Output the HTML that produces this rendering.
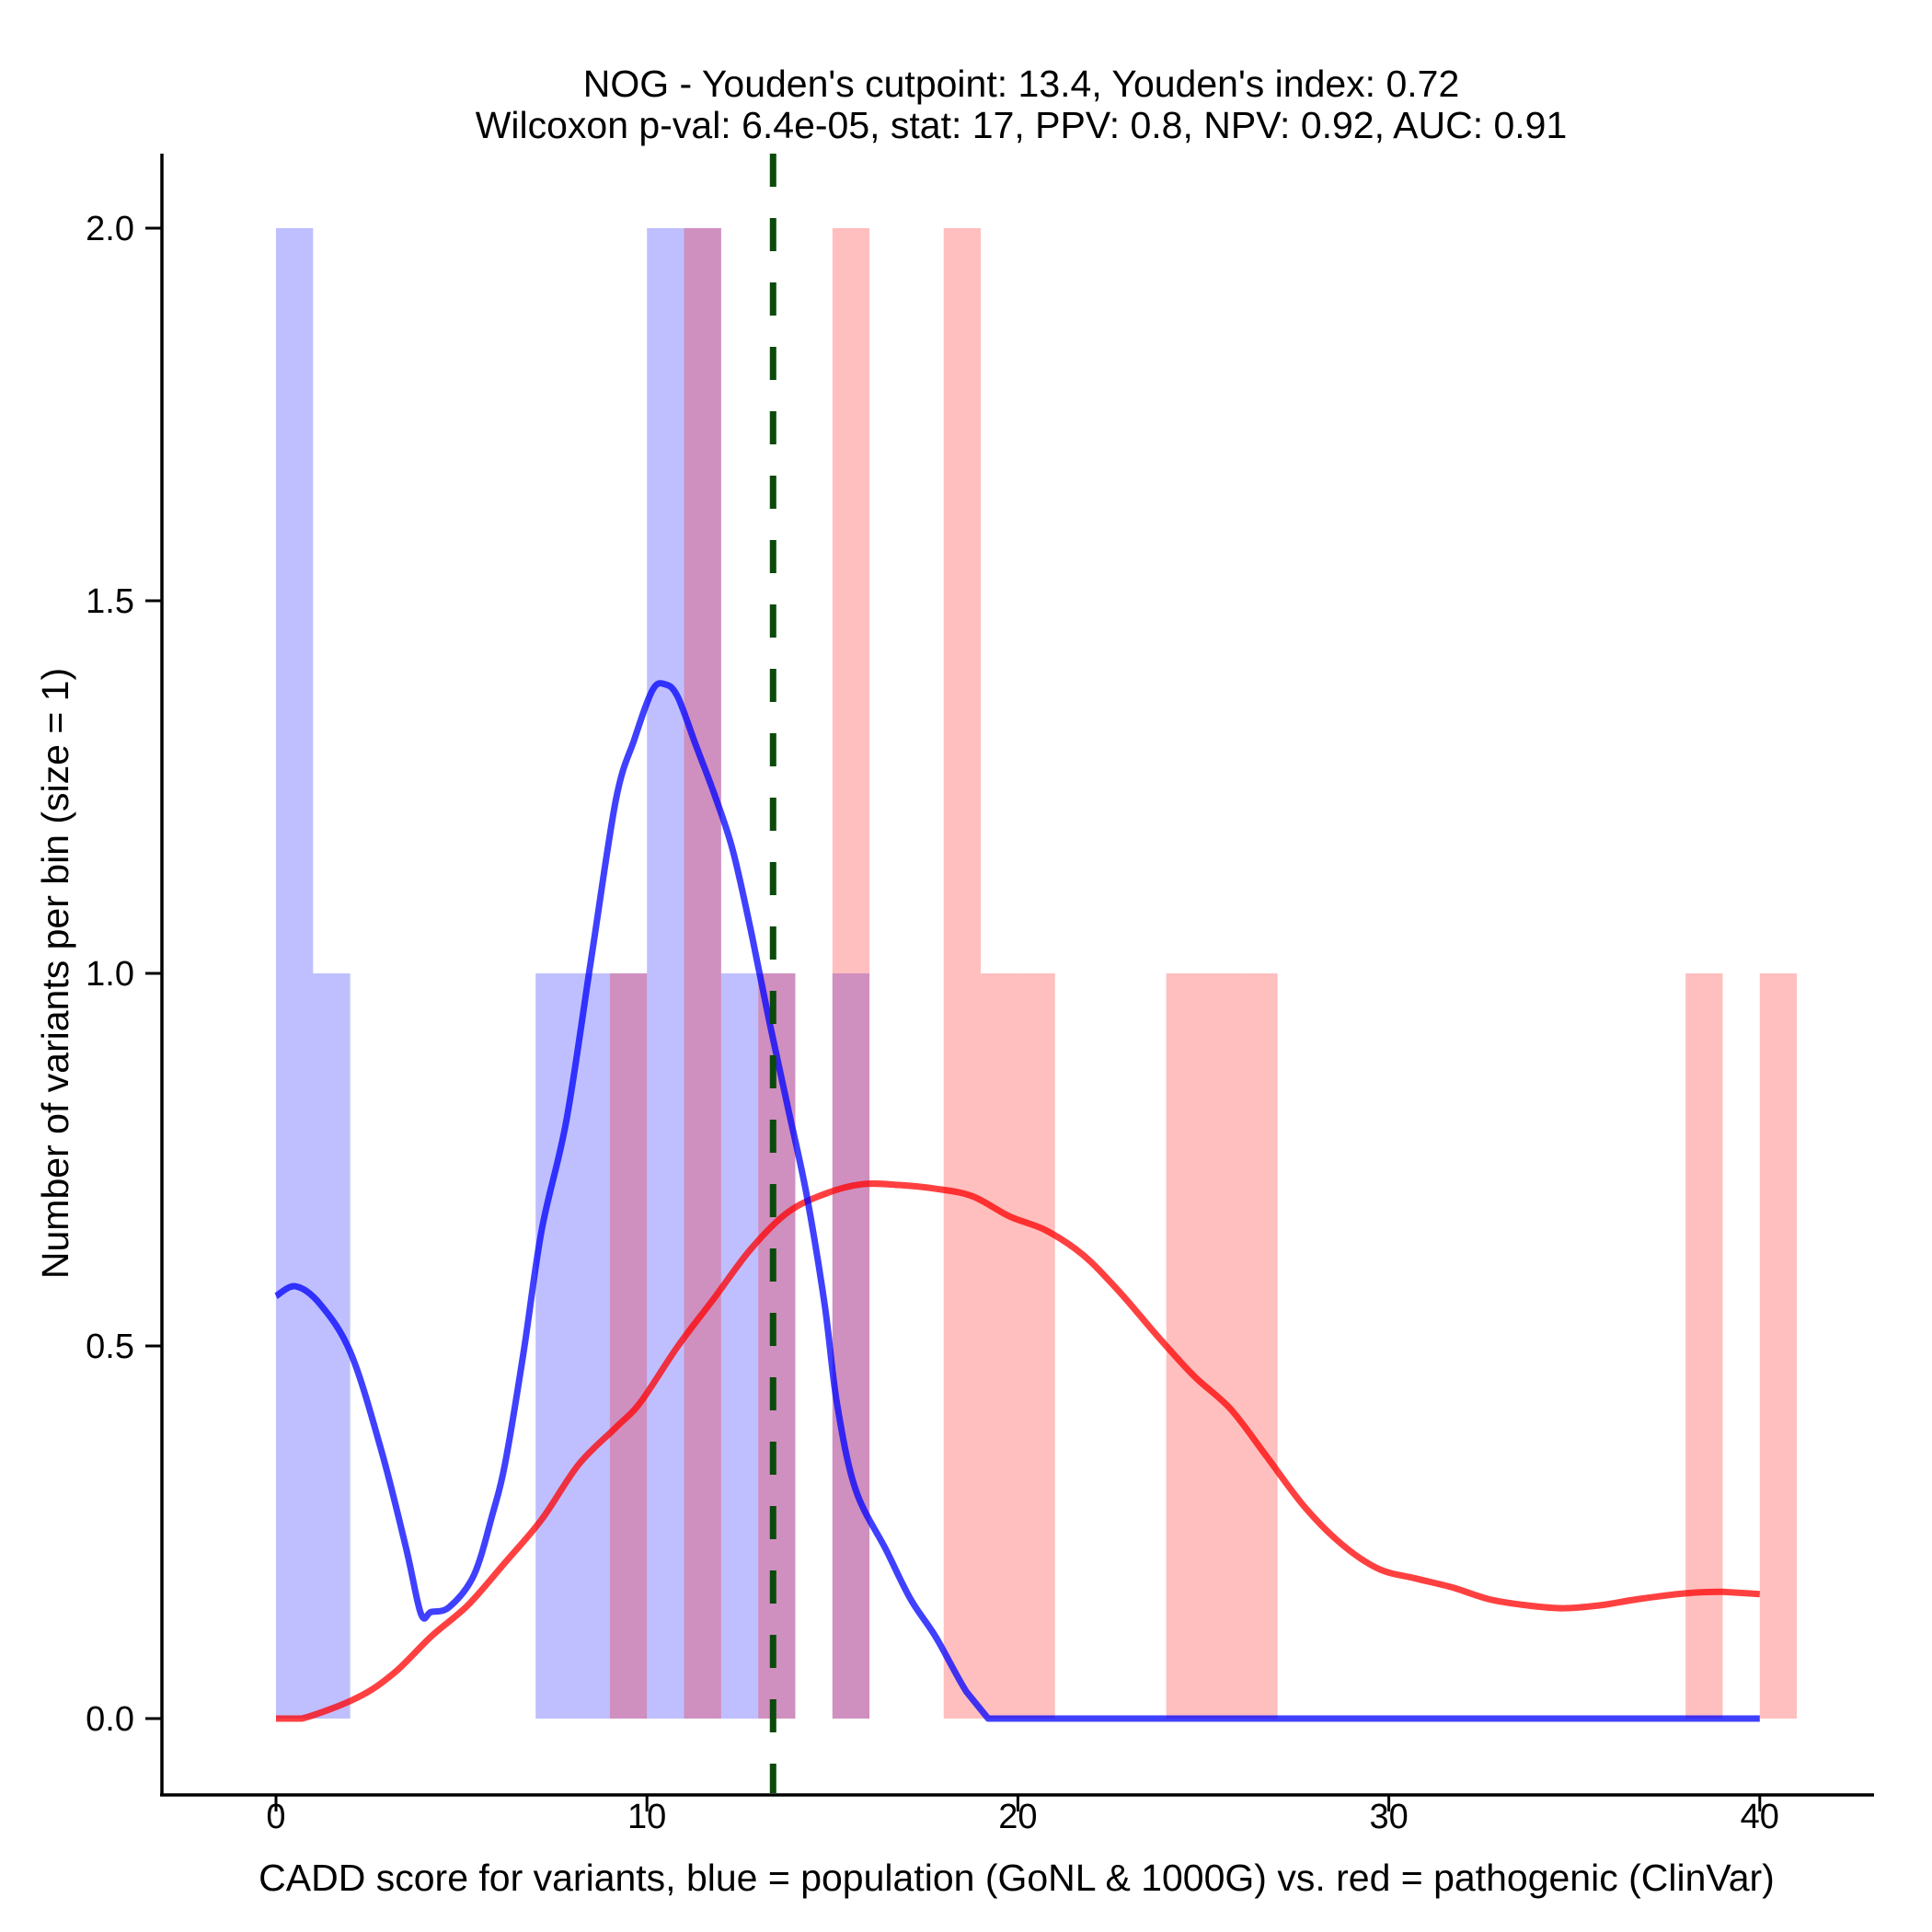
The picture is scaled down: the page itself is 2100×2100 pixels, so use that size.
<!DOCTYPE html>
<html><head><meta charset="utf-8"><style>
html,body{margin:0;padding:0;background:#fff;}
svg{display:block;font-family:"Liberation Sans",Arial,sans-serif;}
</style></head><body>
<svg id="chart" width="2100" height="2100" viewBox="0 0 2100 2100">
<text x="1110" y="105" text-anchor="middle" font-size="41">NOG - Youden's cutpoint: 13.4, Youden's index: 0.72</text>
<text x="1110" y="150" text-anchor="middle" font-size="41">Wilcoxon p-val: 6.4e-05, stat: 17, PPV: 0.8, NPV: 0.92, AUC: 0.91</text>
<g id="bars"></g>
<g id="curves"></g>
<g id="axes"></g>
<text x="1105" y="2055" text-anchor="middle" font-size="41">CADD score for variants, blue = population (GoNL &amp; 1000G) vs. red = pathogenic (ClinVar)</text>
<text transform="translate(74,1058) rotate(-90)" text-anchor="middle" font-size="41">Number of variants per bin (size = 1)</text>
</svg>
<script>
const blueBins = [0,1,7,8,9,10,11,12,13,15];
const blueCounts = [2,1,1,1,1,2,2,1,1,1];
const redBins = [9,11,13,15,18,19,20,24,25,26,38,40];
const redCounts = [1,2,1,2,2,1,1,1,1,1,1,1];
const blueDensX = [0,0.53,1.19,2.02,2.85,3.52,3.91,4.18,4.68,5.34,5.84,6.17,6.67,7.16,7.83,8.49,9.16,9.66,10.15,10.48,10.82,11.32,11.82,12.31,12.8,13.3,13.8,14.3,14.79,15.12,15.62,16.45,17.11,17.78,18.61,19.2,25,30,35,40];
const blueDensY = [0.567,0.58,0.556,0.49,0.358,0.226,0.14,0.143,0.15,0.193,0.275,0.341,0.49,0.655,0.803,1.017,1.232,1.314,1.38,1.388,1.372,1.306,1.24,1.166,1.058,0.935,0.82,0.704,0.556,0.424,0.308,0.226,0.16,0.11,0.036,0,0,0,0,0];
const redDensX = [0,0.7,2.19,3.18,4.18,5.17,6.17,7.16,8.16,9.15,9.82,10.81,11.81,12.8,13.79,14.79,15.79,16.78,17.78,18.77,19.77,20.76,21.76,22.75,23.75,24.74,25.74,26.73,27.73,28.73,29.72,30.72,31.71,32.71,33.71,34.7,35.7,36.69,38,39,40];
const redDensY = [0,0,0.028,0.061,0.11,0.152,0.209,0.267,0.341,0.39,0.424,0.498,0.564,0.63,0.679,0.704,0.717,0.716,0.711,0.701,0.674,0.655,0.622,0.572,0.514,0.46,0.415,0.35,0.284,0.234,0.201,0.188,0.176,0.16,0.152,0.148,0.152,0.16,0.168,0.17,0.167];
const cutpoint = 13.4;
const xTicks = [0,10,20,30,40];
const yTicks = [0,0.5,1,1.5,2];
const yTickLabels = ["0.0","0.5","1.0","1.5","2.0"];

const NS="http://www.w3.org/2000/svg";
const X0=300, XS=40.32, Y0=1868, YS=810;
const sx=v=>X0+v*XS, sy=v=>Y0-v*YS;
function mk(tag,attrs,parent){const e=document.createElementNS(NS,tag);for(const k in attrs)e.setAttribute(k,attrs[k]);parent.appendChild(e);return e;}
const bars=document.getElementById('bars');
blueBins.forEach((b,i)=>{
  const r=mk('rect',{x:sx(b),y:sy(blueCounts[i]),width:sx(b+1)-sx(b),height:sy(0)-sy(blueCounts[i]),fill:'rgba(0,0,255,0.25)'},bars);
  
  
});
redBins.forEach((b,i)=>{
  const r=mk('rect',{x:sx(b),y:sy(redCounts[i]),width:sx(b+1)-sx(b),height:sy(0)-sy(redCounts[i]),fill:'rgba(255,0,0,0.25)'},bars);
  
  
});
const curves=document.getElementById('curves');
function line(xs,ys,col,name){
  const P=xs.map((x,i)=>[sx(x),sy(ys[i])]);
  let d='M'+P[0][0].toFixed(1)+','+P[0][1].toFixed(1);
  for(let i=0;i<P.length-1;i++){
    const p0=P[Math.max(0,i-1)],p1=P[i],p2=P[i+1],p3=P[Math.min(P.length-1,i+2)];
    if(p1[1]===p2[1] || (i>0 && p2[1]===p3[1])){d+='L'+p2[0].toFixed(1)+','+p2[1].toFixed(1);continue;}
    const c1=[p1[0]+(p2[0]-p0[0])/6,p1[1]+(p2[1]-p0[1])/6];
    const c2=[p2[0]-(p3[0]-p1[0])/6,p2[1]-(p3[1]-p1[1])/6];
    d+='C'+c1.map(v=>v.toFixed(1)).join(',')+' '+c2.map(v=>v.toFixed(1)).join(',')+' '+p2.map(v=>v.toFixed(1)).join(',');
  }
  const p=mk('path',{d:d,fill:'none',stroke:col,'stroke-width':7,'stroke-linejoin':'round'},curves);
  
  
}
line(redDensX,redDensY,'rgba(255,0,0,0.75)','red-density-line');
line(blueDensX,blueDensY,'rgba(0,0,255,0.75)','blue-density-line');
const cut=mk('line',{x1:sx(cutpoint),x2:sx(cutpoint),y1:167,y2:1949,stroke:'#0b4a0b','stroke-width':7,'stroke-dasharray':'36 34'},curves);


const axes=document.getElementById('axes');
const ya=mk('line',{x1:176,x2:176,y1:167,y2:1951,stroke:'#000','stroke-width':3.5},axes);


const xa=mk('line',{x1:174,x2:2037,y1:1951,y2:1951,stroke:'#000','stroke-width':3.5},axes);


xTicks.forEach(t=>{
  const tk=mk('line',{x1:sx(t),x2:sx(t),y1:1951,y2:1969,stroke:'#000','stroke-width':3},axes);
  
  
  const tx=mk('text',{x:sx(t),y:1987,'text-anchor':'middle','font-size':38},axes);
  tx.textContent=t;
  
  
});
yTicks.forEach((t,i)=>{
  const tk=mk('line',{x1:158,x2:176,y1:sy(t),y2:sy(t),stroke:'#000','stroke-width':3},axes);
  
  
  const tx=mk('text',{x:146,y:sy(t)+13,'text-anchor':'end','font-size':38},axes);
  tx.textContent=yTickLabels[i];
  
  
});
</script>
</body></html>
